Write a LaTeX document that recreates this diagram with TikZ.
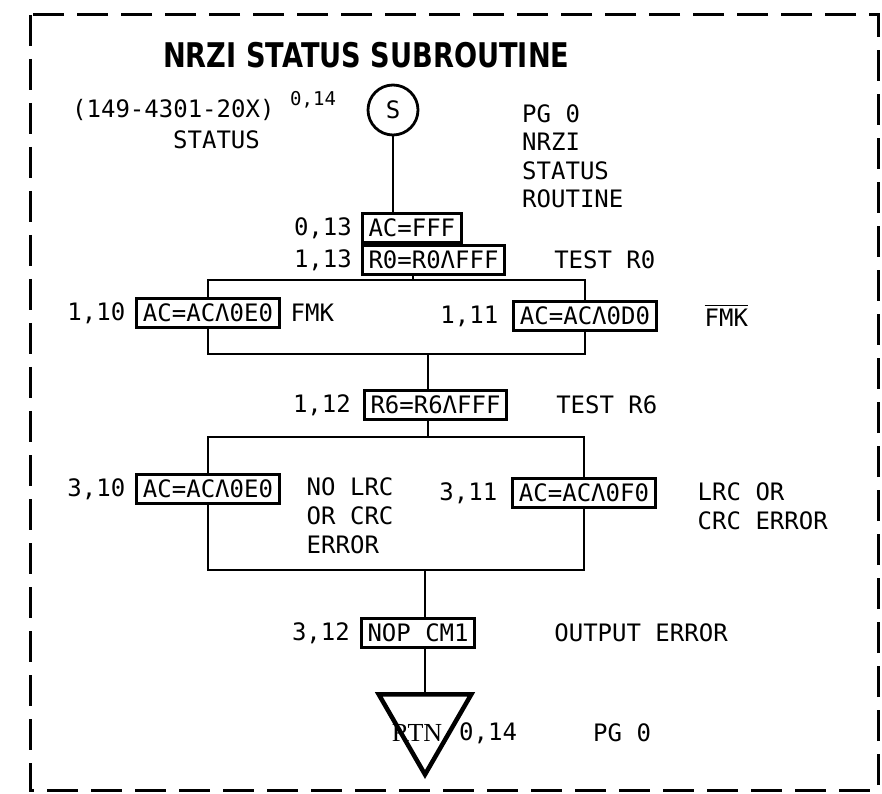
\documentclass[tikz,border=0pt]{standalone}
\usepackage{fontspec}
\usepackage{graphicx}
\usetikzlibrary{positioning, shapes.geometric}
\newfontfamily\listfont{DejaVu Sans Mono}
\newfontfamily\headfont{DejaVu Sans}
\newfontfamily\rtnfont{Liberation Serif}
\newcommand{\barred}[1]{\setbox0=\hbox{#1}\rlap{\rule[\dimexpr\ht0+3pt\relax]{\wd0}{1.4pt}}\box0}

\begin{document}
\begin{tikzpicture}[x=1pt, y=1pt,
opbox/.style={rectangle, draw, line width=3pt, inner xsep=6pt, inner ysep=0pt,
minimum height=29pt, font=\fontsize{24}{29}\selectfont\listfont},
note/.style={inner sep=0pt, font=\fontsize{24}{29}\selectfont\listfont},
smallnote/.style={inner sep=0pt, font=\fontsize{19}{23}\selectfont\listfont},
link/.style={line width=2.6pt},
borderline/.style={line width=3pt, dash pattern=on 31pt off 13pt}]

\useasboundingbox (0,0) rectangle (882,793);
\draw[borderline] (30,778) rectangle (878,3);

% heading and entry point
\node[anchor=west, inner sep=0pt] (title) at (163,738)
    {\scalebox{0.8}[1]{\fontsize{34}{38}\selectfont\headfont\bfseries NRZI STATUS SUBROUTINE}};
\node[note, anchor=west] (partno) at (72,683) {(149-4301-20X)};
\node[smallnote, anchor=west] (entry) at (290,693) {0,14};
\node[note, anchor=west] (entryname) at (173,653) {STATUS};
\node[circle, draw, line width=2.8pt, minimum size=50pt, inner sep=0pt,
    font=\fontsize{24}{29}\selectfont\listfont] (start) at (393,683) {S};
\node[note, align=left, anchor=north west, font=\fontsize{24}{28.5}\selectfont\listfont]
    (pagenote) at (522,689) {PG 0\\NRZI\\STATUS\\ROUTINE};

% first test
\node[opbox, anchor=north west] (acbox) at (361,581) {AC=FFF};
\node[opbox, anchor=north west] (r0box) at (acbox.south west) {R0=R0ΛFFF};
\node[note, left=9pt of acbox] (row013) {0,13};
\node[note, left=9pt of r0box] (row113) {1,13};
\node[note, right=48pt of r0box] (testr0) {TEST R0};
\coordinate (split1) at (413,513);

\node[opbox] (fmkbox) at (208,480) {AC=ACΛ0E0};
\node[note, left=10pt of fmkbox] (row110) {1,10};
\node[note, right=10pt of fmkbox] (fmk) {FMK};
\node[opbox] (nfmkbox) at (585,477) {AC=ACΛ0D0};
\node[note, left=14pt of nfmkbox] (row111) {1,11};
\node[note, right=47pt of nfmkbox] (nfmk) {\barred{FMK}};
\coordinate (merge1) at (428,439);

% second test
\node[opbox, anchor=north west] (r6box) at (363,404) {R6=R6ΛFFF};
\node[note, left=12pt of r6box] (row112) {1,12};
\node[note, right=48pt of r6box] (testr6) {TEST R6};
\coordinate (split2) at (428,356);

\node[opbox] (nolrcbox) at (208,304) {AC=ACΛ0E0};
\node[note, left=10pt of nolrcbox] (row310) {3,10};
\node[note, align=left, anchor=north west] (nolrc)
    at ([xshift=26pt, yshift=-4pt]nolrcbox.north east) {NO LRC\\OR CRC\\ERROR};
\node[opbox] (lrcbox) at (584,300) {AC=ACΛ0F0};
\node[note, left=14pt of lrcbox] (row311) {3,11};
\node[note, align=left, anchor=north west] (lrcerr)
    at ([xshift=41pt, yshift=-5pt]lrcbox.north east) {LRC OR\\CRC ERROR};
\coordinate (merge2) at (425,223);

% output and return
\node[opbox, anchor=north west] (nopbox) at (360,176) {NOP CM1};
\node[note, left=10pt of nopbox] (row312) {3,12};
\node[note, right=78pt of nopbox] (outerr) {OUTPUT ERROR};
\node[regular polygon, regular polygon sides=3, shape border rotate=180, draw,
    line width=4.5pt, minimum size=107pt, inner sep=0pt] (rtn) at (425,72) {};
\node[inner sep=0pt, font=\fontsize{26}{30}\selectfont\rtnfont] (rtnlabel) at (417,60) {RTN};
\node[note, anchor=west] (exitpt) at (459,60) {0,14};
\node[note, anchor=west] (exitpg) at (593,60) {PG 0};

\draw[link] (start) -- (acbox.north -| start);
\draw[link] (r0box.south -| split1) -- (split1);
\draw[link] (fmkbox.north) |- (split1) -| (nfmkbox.north);
\draw[link] (fmkbox.south) |- (merge1) -| (nfmkbox.south);
\draw[link] (merge1) -- (r6box.north -| merge1);
\draw[link] (r6box.south -| split2) -- (split2);
\draw[link] (nolrcbox.north) |- (split2) -| (lrcbox.north);
\draw[link] (nolrcbox.south) |- (merge2) -| (lrcbox.south);
\draw[link] (merge2) -- (nopbox.north -| merge2);
\draw[link] (nopbox.south -| rtn.north) -- (rtn.north);
\end{tikzpicture}
\end{document}
